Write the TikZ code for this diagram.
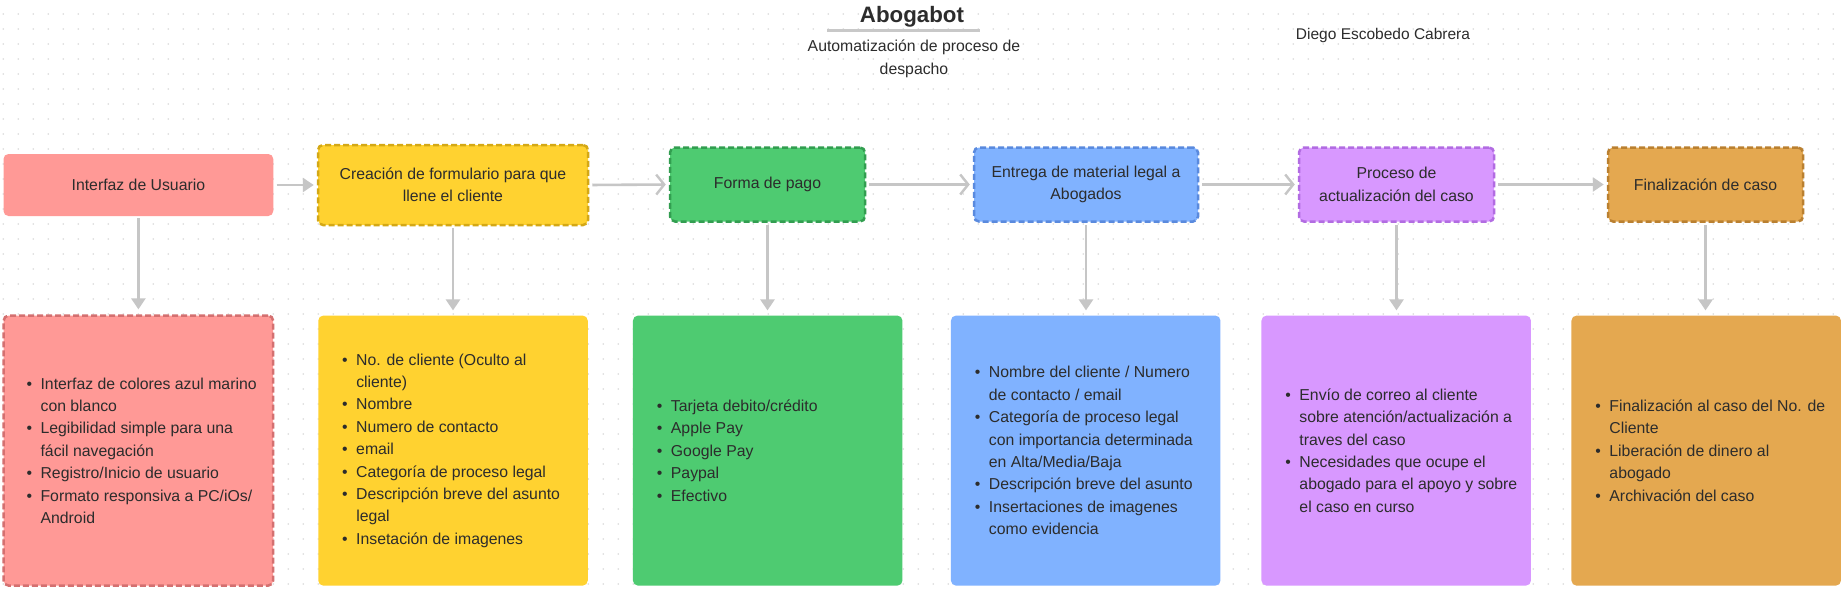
\documentclass[tikz,border=0pt]{standalone}
\usepackage{fontspec}
\setmainfont{Liberation Sans}
\usetikzlibrary{arrows.meta}
\definecolor{pinkF}{RGB}{255,153,150}
\definecolor{pinkD}{RGB}{212,112,112}
\definecolor{yelF}{RGB}{255,210,48}
\definecolor{yelD}{RGB}{212,168,22}
\definecolor{grnF}{RGB}{78,203,113}
\definecolor{grnD}{RGB}{50,158,80}
\definecolor{bluF}{RGB}{128,178,255}
\definecolor{bluD}{RGB}{90,138,222}
\definecolor{purF}{RGB}{216,152,255}
\definecolor{purD}{RGB}{178,108,226}
\definecolor{ornF}{RGB}{228,168,80}
\definecolor{ornD}{RGB}{186,128,48}
\definecolor{textc}{RGB}{44,44,44}
\definecolor{arrc}{RGB}{198,198,198}
\definecolor{dotc}{RGB}{218,218,218}
\definecolor{ulc}{RGB}{200,200,200}
\newcommand\bul{\llap{\textbullet\hspace{8.5pt}}}
\tikzset{
  txt/.style={font=\fontsize{15.8}{22.4}\selectfont, text=textc, inner sep=0pt},
  topbox/.style={txt, rounded corners=5pt, align=center},
  dashbox/.style={line width=2.5pt, dash pattern=on 6pt off 3pt},
  botbox/.style={rounded corners=5pt, minimum width=269.5, minimum height=270, inner sep=0pt},
  list/.style={txt, anchor=west, align=left},
  farrow/.style={draw=arrc, line width=2.6pt, -{Triangle[width=14pt,length=11pt]}, shorten <=3pt, shorten >=3pt},
  oarrow/.style={draw=arrc, line width=2.6pt, -{Straight Barb[width=20pt,length=8pt,line width=2.4pt]}, shorten <=3pt, shorten >=3pt},
  varrow/.style={draw=arrc, line width=2.6pt, -{Triangle[width=14pt,length=11pt]}, shorten <=2pt, shorten >=5pt}
}
\begin{document}
\begin{tikzpicture}[x=1pt,y=-1pt]
\useasboundingbox (0,0) rectangle (1847,594);
\fill[white] (0,0) rectangle (1847,594);
\foreach \i in {0,...,123}{
  \foreach \j in {0,...,39}{
    \fill[dotc] (3.3+15*\i, 14+15*\j) circle (0.85pt);
  }
}
% title area
\node[font=\bfseries\fontsize{22.3}{26}\selectfont, text=textc, inner sep=0pt] (title) at (912,16.5) {Abogabot};
\coordinate (ulA) at (827,30.6);
\coordinate (ulB) at (980,30.6);
\draw[ulc, line width=3.5pt] (ulA) -- (ulB);
\node[txt, align=center] (sub) at (914,59) {Automatización de proceso de\\despacho};
\node[txt, font=\fontsize{15.5}{20}\selectfont] (author) at (1383,35) {Diego Escobedo Cabrera};

% top row
\node[topbox, fill=pinkF, minimum width=269.8, minimum height=62] (T1) at (138.4,185) {Interfaz de Usuario};
\node[topbox, dashbox, fill=yelF, draw=yelD, minimum width=270, minimum height=80] (T2) at (453,185) {Creación de formulario para que\\llene el cliente};
\node[topbox, dashbox, fill=grnF, draw=grnD, minimum width=195, minimum height=74] (T3) at (767.5,184.5) {Forma de pago};
\node[topbox, dashbox, fill=bluF, draw=bluD, minimum width=224, minimum height=74] (T4) at (1086,184.5) {Entrega de material legal a\\Abogados};
\node[topbox, dashbox, fill=purF, draw=purD, minimum width=195, minimum height=74] (T5) at (1396.5,184.5) {Proceso de\\actualización del caso};
\node[topbox, dashbox, fill=ornF, draw=ornD, minimum width=195, minimum height=74] (T6) at (1705.5,184.5) {Finalización de caso};

% bottom row
\node[botbox, dashbox, fill=pinkF, draw=pinkD] (B1) at (138.4,450.6) {};
\node[botbox, fill=yelF] (B2) at (453,450.6) {};
\node[botbox, fill=grnF] (B3) at (767.7,450.6) {};
\node[botbox, fill=bluF] (B4) at (1085.7,450.6) {};
\node[botbox, fill=purF] (B5) at (1396.2,450.6) {};
\node[botbox, fill=ornF] (B6) at (1706.2,450.6) {};

\node[list] (L1) at ([xshift=38pt]B1.west) {\bul Interfaz de colores azul marino\\con blanco\\\bul Legibilidad simple para una\\fácil navegación\\\bul Registro/Inicio de usuario\\\bul Formato responsiva a PC/iOs/\\Android};
\node[list] (L2) at ([xshift=38pt]B2.west) {\bul No. de cliente (Oculto al\\cliente)\\\bul Nombre\\\bul Numero de contacto\\\bul email\\\bul Categoría de proceso legal\\\bul Descripción breve del asunto\\legal\\\bul Insetación de imagenes};
\node[list] (L3) at ([xshift=38pt]B3.west) {\bul Tarjeta debito/crédito\\\bul Apple Pay\\\bul Google Pay\\\bul Paypal\\\bul Efectivo};
\node[list] (L4) at ([xshift=38pt]B4.west) {\bul Nombre del cliente / Numero\\de contacto / email\\\bul Categoría de proceso legal\\con importancia determinada\\en Alta/Media/Baja\\\bul Descripción breve del asunto\\\bul Insertaciones de imagenes\\como evidencia};
\node[list] (L5) at ([xshift=38pt]B5.west) {\bul Envío de correo al cliente\\sobre atención/actualización a\\traves del caso\\\bul Necesidades que ocupe el\\abogado para el apoyo y sobre\\el caso en curso};
\node[list] (L6) at ([xshift=38pt]B6.west) {\bul Finalización al caso del No. de\\Cliente\\\bul Liberación de dinero al\\abogado\\\bul Archivación del caso};

% horizontal connectors
\draw[farrow] (T1.east) -- (T2.west);
\draw[oarrow] (T2.east) -- (T3.west);
\draw[oarrow] (T3.east) -- (T4.west);
\draw[oarrow] (T4.east) -- (T5.west);
\draw[farrow] (T5.east) -- (T6.west);

% vertical connectors
\foreach \k in {1,...,6}{
  \draw[varrow] (T\k.south) -- (T\k.south |- B\k.north);
}
\end{tikzpicture}
\end{document}
